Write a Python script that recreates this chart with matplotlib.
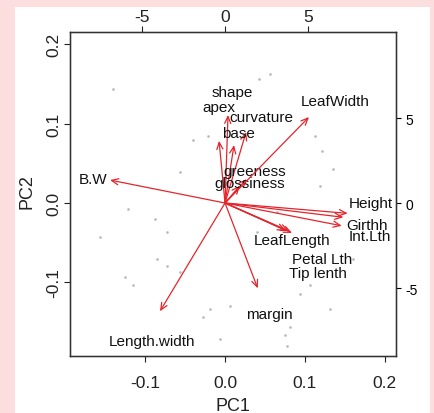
import matplotlib
matplotlib.use("Agg")
import matplotlib.pyplot as plt
from matplotlib.patches import Rectangle

plt.rcParams['font.family'] = ['Liberation Sans', 'DejaVu Sans']

# variable names, arrow tips and label positions (top/right axis units)
variables = ["shape", "apex", "curvature", "base", "greeness", "glossiness",
             "B.W", "LeafWidth", "Height", "Int.Lth", "Girthh", "LeafLength",
             "Petal Lth", "Tip lenth", "margin", "Length.width"]
tip_x = [0.18, -0.36, 1.27, 0.54, 1.31, 0.90, -6.93, 5.06, 7.39, 7.13, 7.03,
         4.04, 3.86, 3.67, 1.97, -3.92]
tip_y = [5.18, 3.66, 4.18, 3.41, 1.41, 1.02, 1.35, 5.06, -0.61, -0.84, -1.34,
         -1.76, -1.65, -1.62, -5.02, -6.37]
lab_x = [0.44, -0.36, 2.17, 0.80, 1.81, 1.51, -7.93, 6.63, 8.80, 8.73, 8.53,
         4.06, 5.86, 5.62, 2.67, -4.42]
lab_y = [6.51, 5.67, 5.04, 4.10, 1.86, 1.18, 1.41, 6.02, 0.0, -1.96, -1.29,
         -2.16, -3.29, -4.12, -6.53, -8.14]

# observation scores (PC1, PC2)
pc1 = [-0.140, -0.040, -0.021, 0.056, 0.042, 0.113, 0.121, -0.056, -0.121,
       -0.088, -0.156, -0.073, -0.125, -0.115, -0.085, -0.073, -0.019, -0.027,
       0.006, 0.081, 0.075, 0.077, 0.106, 0.131, 0.094, 0.135, 0.119, 0.065,
       0.160, -0.006, -0.056, 0.040]
pc2 = [0.144, 0.079, 0.085, 0.163, 0.156, 0.085, 0.066, 0.039, -0.008,
       -0.020, -0.043, -0.037, -0.094, -0.104, -0.071, -0.079, -0.134, -0.144,
       -0.130, -0.157, -0.167, -0.180, -0.104, -0.134, -0.115, 0.043, 0.022,
       -0.012, -0.071, -0.172, -0.087, -0.037]

fig = plt.figure(figsize=(4.35, 4.14), dpi=100)
fig.patch.set_facecolor('#fcdede')
fig.patches.append(Rectangle((15 / 435, 0), 415 / 435, 1 - 8 / 414,
                             transform=fig.transFigure, facecolor='white',
                             edgecolor='none', zorder=-10))

ax = fig.add_axes([70 / 435, 1 - 357 / 414, 326 / 435, 324 / 414])
ax.set_facecolor('none')
ax.plot(pc1, pc2, linestyle='none', marker='o', ms=1.1, color='#a8a8a8',
        alpha=0.6)
ax.set_xlim(-0.194, 0.214)
ax.set_ylim(-0.193, 0.2156)
ax.set_xticks([-0.1, 0.0, 0.1, 0.2])
ax.set_xticklabels(["-0.1", "0.0", "0.1", "0.2"])
ax.set_yticks([-0.1, 0.0, 0.1, 0.2])
ax.set_yticklabels(["-0.1", "0.0", "0.1", "0.2"], rotation=90, va='center')
ax.tick_params(axis='x', length=4.5, width=0.8, pad=9, labelsize=12.5,
               colors='#222222')
ax.tick_params(axis='y', length=4.5, width=0.8, pad=2, labelsize=12.5,
               colors='#222222')

ax2 = ax.twinx().twiny()
ax2.set_xlim(-9.34, 10.3)
ax2.set_ylim(-9.0, 10.06)
ax2.set_xticks([-5, 0, 5])
ax2.set_xticklabels(["-5", "0", "5"])
ax2.set_yticks([-5, 0, 5])
ax2.set_yticklabels(["-5", "0", "5"], rotation=90, va='center')
ax2.xaxis.tick_top()
ax2.yaxis.tick_right()
ax2.tick_params(axis='x', length=4.5, width=0.8, pad=1, labelsize=12.5,
                colors='#222222')
ax2.tick_params(axis='y', length=4.5, width=0.8, pad=7, labelsize=12.5,
                colors='#222222')

for a in (ax, ax2):
    for s in a.spines.values():
        s.set_color('#333333')
        s.set_linewidth(0.9)

for name, tx, ty, lx, ly in zip(variables, tip_x, tip_y, lab_x, lab_y):
    ax2.annotate("", xy=(tx, ty), xytext=(0, 0),
                 arrowprops=dict(arrowstyle='->,head_length=0.5,head_width=0.22',
                                 color='#e3262c', lw=0.9,
                                 shrinkA=0, shrinkB=0))
    ax2.text(lx, ly, name, ha='center', va='center', fontsize=11,
             color='#111111')

fig.text(233 / 435, 1 - 407 / 414, "PC1", ha='center', va='center',
         fontsize=13, color='#222222')
fig.text(27 / 435, 1 - 192 / 414, "PC2", ha='center', va='center',
         fontsize=13, color='#222222', rotation=90)

fig.savefig("out.png", dpi=100, facecolor=fig.get_facecolor())
